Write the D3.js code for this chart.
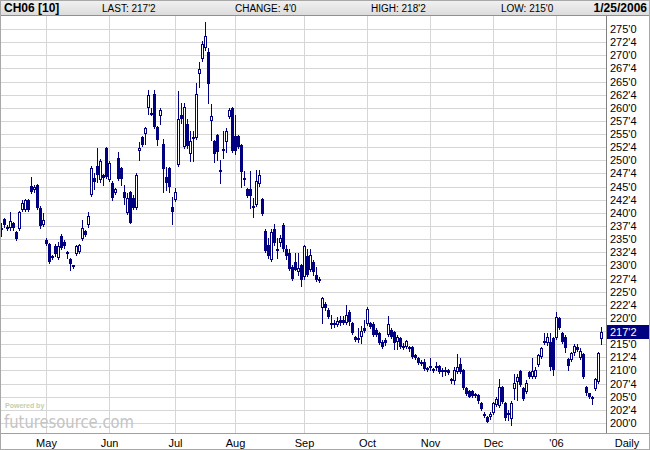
<!DOCTYPE html>
<html>
<head>
<meta charset="utf-8">
<script src="https://cdn.jsdelivr.net/npm/d3@7/dist/d3.min.js"></script>
<style>
  html, body { margin: 0; padding: 0; background: #fff; }
  svg { display: block; font-family: "Liberation Sans", Arial, sans-serif; }
</style>
</head>
<body>
<div id="chart"></div>
<script>
// header values
const symbol = "CH06 [10]";
const headerItems = ["LAST: 217'2", "CHANGE: 4'0", "HIGH: 218'2", "LOW: 215'0"];
const dateLabel = "1/25/2006";
const lastPrice = 217.25;

// month labels on the time axis, with the index of the first session of each month
const monthLabels = ["May", "Jun", "Jul", "Aug", "Sep", "Oct", "Nov", "Dec", "'06"];
const monthStart = [15, 36, 58, 78, 101, 122, 143, 164, 185];

// price ticks (cents)
const priceTicks = [200, 202.5, 205, 207.5, 210, 212.5, 215, 217.5, 220, 222.5, 225, 227.5,
  230, 232.5, 235, 237.5, 240, 242.5, 245, 247.5, 250, 252.5, 255, 257.5, 260, 262.5,
  265, 267.5, 270, 272.5, 275];

// daily OHLC, mid-April 2005 to 25 Jan 2006
const opens = [
  236.8, 238.8, 236.9, 237.05, 238.0, 236.4, 236.9, 240.5, 240.5, 242.4,
  245.1, 244.3, 245.3, 241.0, 237.7, 234.8, 234.1, 231.5, 233.7, 231.5,
  235.6, 234.5, 232.5, 231.2, 230.0, 232.1, 232.6, 234.96, 236.6, 237.6,
  243.4, 246.7, 248.9, 246.25, 247.2, 252.3, 246.25, 245.75, 243.85, 250.4,
  248.5, 243.9, 239.9, 244.0, 242.8, 240.9, 251.8, 254.4, 254.95, 259.9,
  259.1, 262.6, 256.4, 258.4, 253.2, 246.8, 248.5, 241.2, 242.45, 249.1,
  258.6, 252.5, 256.9, 251.3, 254.2, 254.2, 266.4, 269.2, 271.3, 270.6,
  257.4, 253.7, 254.8, 248.2, 252.2, 253.4, 258.3, 260.0, 254.6, 254.6,
  252.9, 246.6, 244.5, 244.5, 241.4, 241.5, 245.4, 242.6, 236.5, 233.9,
  231.0, 236.9, 233.1, 234.3, 237.7, 233.2, 232.3, 229.75, 230.7, 228.8,
  230.1, 227.85, 231.7, 229.1, 230.7, 228.2, 227.5, 221.8, 222.65, 221.6,
  219.1, 219.1, 218.6, 219.6, 219.7, 219.1, 221.2, 219.1, 216.4, 216.2,
  216.4, 218.0, 218.8, 219.0, 218.9, 217.7, 217.1, 215.5, 215.8, 216.7,
  217.7, 217.4, 215.5, 216.1, 214.6, 214.5, 214.5, 214.4, 212.9, 212.3,
  211.7, 211.7, 210.4, 210.4, 210.2, 210.4, 210.8, 210.1, 209.75, 210.0,
  208.1, 208.05, 209.8, 211.3, 210.1, 206.6, 206.1, 206.0, 205.1, 205.3,
  203.9, 201.3, 201.2, 201.2, 201.96, 203.4, 203.23, 206.8, 203.74, 201.84,
  200.7, 206.4, 207.86, 209.96, 206.6, 205.96, 209.77, 208.69, 208.69, 211.04,
  212.62, 215.67, 215.16, 215.48, 216.1, 216.1, 219.92, 217.06, 216.43, 212.12,
  211.99, 213.26, 214.5, 212.3, 213.07, 206.9, 205.64, 205.0, 206.4, 207.86,
  216.0
];
const highs = [
  238.0, 239.1, 237.6, 240.1, 238.3, 236.6, 240.3, 242.4, 242.6, 242.6,
  246.9, 245.3, 245.5, 241.3, 239.9, 235.3, 234.3, 232.0, 234.0, 234.5,
  235.9, 234.8, 232.7, 231.4, 230.1, 233.9, 234.1, 238.7, 236.8, 240.1,
  248.9, 247.5, 252.3, 250.25, 247.4, 252.5, 249.8, 246.0, 244.8, 251.6,
  248.7, 245.3, 243.7, 244.2, 243.4, 247.5, 253.5, 254.6, 256.4, 263.4,
  259.9, 263.4, 256.6, 259.9, 254.1, 248.8, 248.8, 243.1, 244.7, 263.2,
  261.0, 260.9, 257.8, 255.5, 255.5, 264.7, 268.8, 272.7, 276.3, 271.3,
  260.7, 253.9, 255.0, 250.1, 255.6, 256.1, 260.0, 260.1, 258.6, 254.8,
  253.1, 248.0, 244.7, 248.0, 242.9, 248.2, 248.2, 242.8, 237.0, 235.3,
  237.0, 237.8, 235.15, 235.8, 238.1, 233.9, 233.05, 230.0, 232.3, 232.3,
  230.3, 233.9, 233.2, 233.2, 231.0, 229.75, 227.7, 224.0, 223.0, 221.8,
  220.5, 219.6, 220.2, 220.3, 220.4, 222.45, 221.5, 219.3, 216.6, 218.0,
  218.5, 219.6, 222.1, 219.3, 219.2, 218.0, 217.4, 215.8, 216.1, 220.4,
  218.0, 217.6, 216.7, 216.3, 215.2, 215.8, 214.7, 214.6, 213.1, 212.5,
  211.9, 212.1, 210.6, 212.3, 210.4, 211.7, 211.0, 210.4, 210.7, 210.2,
  208.5, 210.6, 213.2, 212.3, 210.3, 206.8, 206.3, 206.3, 205.8, 205.5,
  204.0, 202.15, 201.4, 202.15, 204.06, 205.0, 208.37, 207.0, 204.0, 202.47,
  204.1, 209.3, 209.3, 210.09, 206.9, 208.18, 209.96, 212.3, 210.72, 213.2,
  214.5, 217.06, 217.06, 217.06, 216.3, 221.19, 220.2, 217.3, 216.7, 212.3,
  213.6, 214.97, 215.0, 214.2, 213.3, 207.0, 205.8, 205.2, 208.5, 213.58,
  218.25
];
const lows = [
  235.6, 237.4, 236.7, 236.8, 236.8, 234.9, 236.7, 240.3, 240.3, 240.3,
  243.8, 244.0, 240.8, 237.2, 237.5, 233.9, 230.4, 231.3, 231.8, 231.3,
  233.2, 233.3, 231.5, 229.2, 229.6, 231.9, 232.4, 234.8, 235.6, 237.4,
  243.2, 244.5, 245.9, 245.9, 245.3, 246.7, 246.0, 242.45, 243.6, 246.2,
  245.3, 241.7, 239.7, 238.0, 240.7, 240.7, 250.1, 252.8, 253.2, 258.9,
  258.6, 256.2, 252.9, 257.0, 244.0, 244.4, 244.0, 237.8, 242.2, 248.9,
  257.05, 252.3, 252.3, 249.9, 249.9, 254.0, 264.0, 268.9, 271.0, 261.0,
  253.9, 249.6, 250.1, 245.75, 250.4, 251.65, 258.0, 251.5, 251.3, 252.3,
  245.0, 245.3, 243.1, 240.9, 239.3, 241.3, 245.2, 239.6, 232.6, 231.5,
  230.8, 233.9, 231.5, 233.6, 232.8, 231.2, 229.2, 227.2, 229.1, 228.2,
  226.1, 227.5, 228.0, 228.9, 228.2, 227.0, 226.9, 219.0, 221.6, 219.9,
  218.0, 218.3, 218.4, 218.6, 218.8, 218.9, 218.6, 216.9, 215.6, 215.5,
  215.3, 217.4, 218.6, 218.1, 216.6, 216.5, 215.0, 214.3, 214.8, 216.5,
  216.2, 214.0, 214.0, 214.3, 214.0, 214.3, 213.8, 212.4, 212.1, 211.3,
  211.0, 210.0, 209.9, 210.1, 209.8, 210.1, 209.6, 208.9, 209.1, 209.3,
  207.7, 207.5, 209.6, 209.6, 206.4, 205.3, 204.9, 204.9, 204.9, 203.9,
  202.4, 201.2, 200.1, 200.7, 201.8, 203.2, 203.0, 203.9, 200.57, 200.57,
  199.62, 204.5, 204.37, 207.0, 204.3, 205.8, 208.5, 208.5, 208.5, 210.85,
  212.4, 215.0, 214.9, 210.09, 209.13, 215.9, 217.8, 215.2, 213.58, 210.09,
  211.8, 213.0, 213.7, 212.1, 208.5, 205.4, 204.7, 203.61, 206.2, 207.7,
  215.0
];
const closes = [
  237.2, 237.7, 237.4, 238.5, 237.05, 235.1, 240.1, 241.9, 242.4, 240.5,
  244.0, 245.0, 241.0, 237.5, 238.6, 234.1, 230.6, 231.8, 232.1, 233.7,
  233.4, 233.6, 232.1, 230.2, 229.8, 233.7, 233.9, 237.05, 235.8, 239.4,
  248.5, 245.8, 247.2, 249.9, 246.6, 246.9, 249.55, 242.8, 244.55, 246.4,
  246.4, 242.8, 242.8, 238.1, 240.9, 247.3, 252.3, 253.0, 256.1, 262.4,
  258.75, 256.4, 253.9, 259.6, 248.3, 245.6, 244.9, 240.2, 243.9, 257.8,
  257.8, 260.1, 252.7, 253.75, 254.4, 262.7, 267.4, 272.1, 273.7, 264.5,
  258.4, 251.3, 251.6, 247.7, 251.9, 255.5, 259.6, 251.8, 251.8, 252.6,
  247.7, 246.2, 243.3, 243.3, 240.9, 246.1, 247.3, 239.7, 232.8, 231.8,
  236.4, 234.2, 232.9, 235.3, 233.2, 231.8, 229.4, 227.5, 229.2, 229.6,
  227.2, 233.7, 228.2, 232.0, 228.8, 227.2, 227.1, 223.7, 221.8, 220.2,
  218.6, 218.6, 219.5, 219.0, 219.1, 220.5, 219.3, 217.1, 215.8, 215.8,
  217.6, 217.6, 221.7, 218.3, 216.8, 216.8, 215.3, 214.5, 215.3, 218.8,
  216.4, 215.2, 216.4, 214.5, 214.4, 215.6, 214.0, 212.6, 212.3, 211.5,
  211.2, 210.2, 210.1, 210.8, 209.95, 210.8, 209.8, 209.75, 210.1, 209.6,
  208.3, 210.1, 210.7, 209.8, 206.6, 205.5, 205.0, 205.1, 205.6, 204.1,
  202.6, 201.8, 200.25, 201.8, 203.74, 204.5, 206.8, 204.06, 200.88, 201.52,
  203.87, 207.67, 208.8, 207.23, 204.5, 207.67, 208.69, 209.96, 210.09, 212.94,
  214.21, 215.29, 216.3, 210.72, 210.09, 220.24, 218.02, 215.48, 214.21, 210.85,
  213.38, 214.65, 213.9, 213.7, 208.69, 205.64, 204.88, 204.88, 208.31, 213.38,
  217.25
];

const width = 650, height = 450;
const navy = "#000080";
const gridColor = "#d6d6d6";
const plotTop = 16, plotBottom = 433, axisX = 606;

const svg = d3.select("#chart").append("svg")
  .attr("width", width)
  .attr("height", height)
  .attr("shape-rendering", "crispEdges");

svg.append("rect").attr("width", width).attr("height", height).attr("fill", "#fff");

const x = d3.scaleBand()
  .domain(d3.range(opens.length))
  .range([0, opens.length * 3])
  .padding(0);

const y = d3.scaleLinear().domain([200, 275]).range([423, 29]);
const py = (v) => Math.round(y(v));

// price format in cents and eighths, e.g. 272'4
const fmt = (v) => Math.floor(v) + "'" + Math.round((v - Math.floor(v)) * 8);

// grid
svg.append("g")
  .selectAll("line")
  .data(priceTicks)
  .enter()
  .append("line")
  .attr("x1", 0)
  .attr("x2", axisX)
  .attr("y1", (d) => py(d) + 0.5)
  .attr("y2", (d) => py(d) + 0.5)
  .attr("stroke", gridColor);

svg.append("g")
  .selectAll("line")
  .data(monthStart)
  .enter()
  .append("line")
  .attr("x1", (d) => x(d) + 1.5)
  .attr("x2", (d) => x(d) + 1.5)
  .attr("y1", plotTop)
  .attr("y2", plotBottom)
  .attr("stroke", gridColor);

// watermark (under the candles)
svg.append("text")
  .attr("x", 5)
  .attr("y", 408)
  .attr("font-size", 7)
  .attr("font-weight", "bold")
  .attr("fill", "#bfcfae")
  .text("Powered by");

svg.append("text")
  .attr("x", 4)
  .attr("y", 428)
  .attr("font-family", "'DejaVu Sans', sans-serif")
  .attr("font-size", 17)
  .attr("fill", "#c4c4c4")
  .attr("textLength", 130)
  .attr("lengthAdjust", "spacingAndGlyphs")
  .text("futuresource.com");

// candles
const candles = svg.append("g")
  .selectAll("g")
  .data(d3.range(opens.length))
  .enter()
  .append("g");

candles.append("line")
  .attr("x1", (i) => x(i) + 1.5)
  .attr("x2", (i) => x(i) + 1.5)
  .attr("y1", (i) => py(highs[i]))
  .attr("y2", (i) => py(lows[i]) + 1)
  .attr("stroke", navy);

candles.each(function (i) {
  const g = d3.select(this);
  const yo = py(opens[i]), yc = py(closes[i]);
  if (closes[i] > opens[i] && yo - yc >= 3) {
    g.append("rect")
      .attr("x", x(i) + 0.5)
      .attr("y", yc + 0.5)
      .attr("width", 2)
      .attr("height", yo - yc - 1)
      .attr("fill", "#fff")
      .attr("stroke", navy);
  } else {
    const top = Math.min(yo, yc);
    g.append("rect")
      .attr("x", x(i))
      .attr("y", top)
      .attr("width", 3)
      .attr("height", Math.max(2, Math.abs(yo - yc)))
      .attr("fill", navy);
  }
});

// axes lines
svg.append("line")
  .attr("x1", axisX + 0.5).attr("x2", axisX + 0.5)
  .attr("y1", plotTop).attr("y2", plotBottom)
  .attr("stroke", "#808080");

svg.append("line")
  .attr("x1", 0).attr("x2", width)
  .attr("y1", plotBottom + 0.5).attr("y2", plotBottom + 0.5)
  .attr("stroke", "#a0a0a0");

// right price labels
svg.append("g")
  .selectAll("text")
  .data(priceTicks.filter((d) => Math.abs(d - lastPrice) > 1.5))
  .enter()
  .append("text")
  .attr("x", 610)
  .attr("y", (d) => py(d) + 4)
  .attr("font-size", 11)
  .attr("fill", "#000")
  .text((d) => fmt(d));

svg.append("rect")
  .attr("x", axisX + 1)
  .attr("y", py(lastPrice) - 7)
  .attr("width", width - axisX - 2)
  .attr("height", 14)
  .attr("fill", navy);

svg.append("text")
  .attr("x", 610)
  .attr("y", py(lastPrice) + 4)
  .attr("font-size", 11)
  .attr("fill", "#fff")
  .text(fmt(lastPrice));

// month labels
svg.append("g")
  .selectAll("text")
  .data(monthStart)
  .enter()
  .append("text")
  .attr("x", (d) => x(d) + 1.5)
  .attr("y", 447)
  .attr("text-anchor", "middle")
  .attr("font-size", 11)
  .attr("fill", "#000")
  .text((d, i) => monthLabels[i]);

svg.append("text")
  .attr("x", 627)
  .attr("y", 447)
  .attr("text-anchor", "middle")
  .attr("font-size", 11)
  .text("Daily");

// header bar
const grad = svg.append("defs").append("linearGradient")
  .attr("id", "hdr").attr("x1", 0).attr("x2", 0).attr("y1", 0).attr("y2", 1);
grad.append("stop").attr("offset", "0%").attr("stop-color", "#f2f2f2");
grad.append("stop").attr("offset", "100%").attr("stop-color", "#dcdcdc");

svg.append("rect")
  .attr("x", 0).attr("y", 0)
  .attr("width", width).attr("height", 15)
  .attr("fill", "url(#hdr)");

svg.append("line")
  .attr("x1", 0).attr("x2", width)
  .attr("y1", 15.5).attr("y2", 15.5)
  .attr("stroke", "#909090");

svg.append("text")
  .attr("x", 4).attr("y", 12)
  .attr("font-size", 12)
  .attr("font-weight", "bold")
  .text(symbol);

const headerX = [102, 235, 371, 501];
svg.append("g")
  .selectAll("text")
  .data(headerItems)
  .enter()
  .append("text")
  .attr("x", (d, i) => headerX[i])
  .attr("y", 12)
  .attr("font-size", 10)
  .text((d) => d);

svg.append("text")
  .attr("x", 647).attr("y", 12)
  .attr("text-anchor", "end")
  .attr("font-size", 12)
  .attr("font-weight", "bold")
  .text(dateLabel);

// frame
svg.append("rect")
  .attr("x", 0.5).attr("y", 0.5)
  .attr("width", width - 1).attr("height", height - 1)
  .attr("fill", "none")
  .attr("stroke", "#a8a8a8");
</script>
</body>
</html>
